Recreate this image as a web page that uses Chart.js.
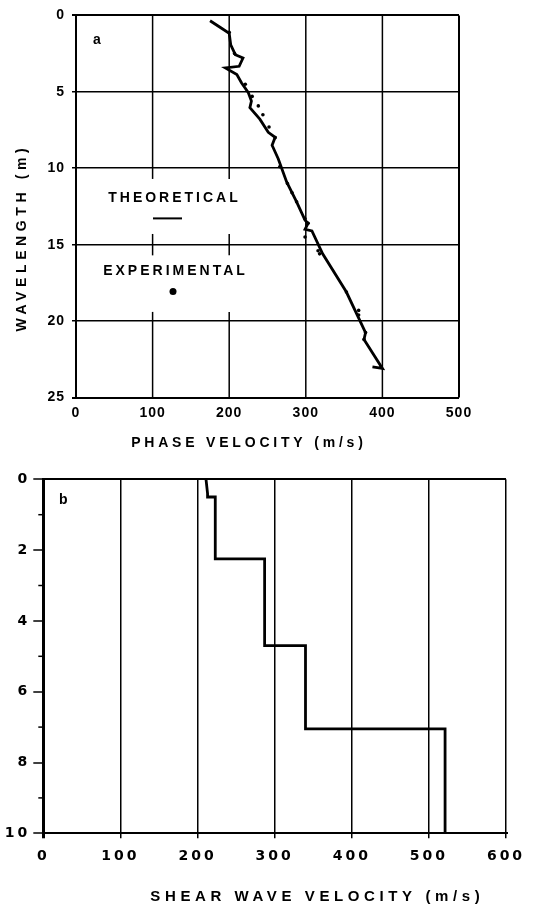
<!DOCTYPE html>
<html><head><meta charset="utf-8">
<script src="https://cdn.jsdelivr.net/npm/chart.js@4/dist/chart.umd.min.js"></script>
<style>
html,body{margin:0;padding:0;background:#fff;width:538px;height:915px;overflow:hidden}
canvas{position:absolute;left:0;display:block}
#ca{top:0}
#cb{top:460px}
</style></head><body>
<canvas id="ca" width="538" height="460"></canvas>
<canvas id="cb" width="538" height="455"></canvas>
<script>
// ---------- Panel a : dispersion curve ----------
const phaseTicks = [0, 100, 200, 300, 400, 500];
const wavelengthTicks = [0, 5, 10, 15, 20, 25];
const theoVelocity = [175, 190, 200, 202, 208, 218, 213, 195, 210, 216, 225, 229, 227, 240, 251, 260, 256, 264, 275, 288, 299, 303, 299, 308, 322, 353, 378, 376, 400, 387];
const theoWavelength = [0.35, 0.84, 1.17, 1.93, 2.57, 2.79, 3.33, 3.44, 3.87, 4.41, 5.06, 5.6, 6.03, 6.79, 7.65, 7.98, 8.5, 9.38, 10.9, 12.2, 13.4, 13.6, 14.0, 14.1, 15.6, 18.1, 20.75, 21.2, 23.1, 23.0];
const expVelocity = [200, 207, 221, 230, 238, 244, 252, 260, 266, 276, 282, 288, 299, 303, 299, 316, 318, 353, 369, 369, 378, 376];
const expWavelength = [1.1, 2.5, 4.5, 5.3, 5.92, 6.5, 7.3, 8.0, 9.9, 11.0, 11.6, 12.2, 13.3, 13.6, 14.5, 15.4, 15.6, 18.1, 19.3, 19.6, 20.75, 21.2];

// ---------- Panel b : shear wave velocity profile ----------
const shearTicks = [0, 100, 200, 300, 400, 500, 600];
const depthTicks = [0, 1, 2, 3, 4, 5, 6, 7, 8, 9, 10];
const depthLabels = ['0', '', '2', '', '4', '', '6', '', '8', '', '10'];
const profileVelocity = [211, 213, 213, 223, 223, 287, 287, 340, 340, 521, 521];
const profileDepth = [0, 0.4, 0.5, 0.5, 2.25, 2.25, 4.7, 4.7, 7.05, 7.05, 10];

const SANS = '"Liberation Sans", Arial, sans-serif';
const WIDE = '"DejaVu Sans", sans-serif';

function pts(xs, ys) { return xs.map((v, i) => ({ x: v, y: ys[i] })); }
function setTicks(arr) { return s => { s.ticks = arr.map(v => ({ value: v })); }; }

function drawText(ctx, txt, x, y, font, spacing, rot) {
  ctx.save();
  ctx.font = font;
  ctx.letterSpacing = spacing + 'px';
  ctx.fillStyle = '#000';
  ctx.textAlign = 'center';
  ctx.textBaseline = 'middle';
  ctx.translate(x, y);
  if (rot) ctx.rotate(rot);
  ctx.fillText(txt, spacing / 2, 0);
  ctx.restore();
}

// vertical grid for panel a (lines at 100 and 200 are interrupted behind the key)
const gridA = {
  id: 'gridA',
  beforeDraw(chart) { chart.ctx.letterSpacing = '1px'; },
  beforeDatasetsDraw(chart) {
    const { ctx, scales: { x, y } } = chart;
    ctx.save();
    ctx.strokeStyle = '#000';
    phaseTicks.forEach((v, i) => {
      const edge = i === 0 || i === phaseTicks.length - 1;
      const px = x.getPixelForValue(v);
      ctx.lineWidth = edge ? 2 : 1.5;
      const segs = (!edge && v <= 250) ? [[0, 10.7], [14.3, 15.7], [19.4, 25]] : [[0, 25]];
      segs.forEach(([a, b]) => {
        ctx.beginPath();
        ctx.moveTo(px, y.getPixelForValue(a));
        ctx.lineTo(px, y.getPixelForValue(b));
        ctx.stroke();
      });
    });
    ctx.restore();
  },
  afterDraw(chart) {
    const { ctx, chartArea: ca } = chart;
    const f14 = 'bold 14px ' + SANS;
    drawText(ctx, 'a', ca.left + 21, ca.top + 25, 'bold 14px ' + SANS, 0);
    drawText(ctx, 'THEORETICAL', ca.left + 97, ca.top + 183, f14, 3);
    ctx.save();
    ctx.strokeStyle = '#000'; ctx.lineWidth = 2;
    ctx.beginPath(); ctx.moveTo(ca.left + 77, ca.top + 203); ctx.lineTo(ca.left + 106, ca.top + 203); ctx.stroke();
    ctx.fillStyle = '#000';
    ctx.beginPath(); ctx.arc(ca.left + 97, ca.top + 276, 3.5, 0, Math.PI * 2); ctx.fill();
    ctx.restore();
    drawText(ctx, 'EXPERIMENTAL', ca.left + 98, ca.top + 256, f14, 3);
    drawText(ctx, 'PHASE VELOCITY (m/s)', 247, 443, f14, 3.8);
    drawText(ctx, 'WAVELENGTH (m)', 22, 240, f14, 4.6, -Math.PI / 2);
  }
};

new Chart(document.getElementById('ca'), {
  type: 'scatter',
  data: {
    datasets: [
      { label: 'THEORETICAL', data: pts(theoVelocity, theoWavelength), showLine: true,
        borderColor: '#000', borderWidth: 2.8, pointRadius: 0, tension: 0 },
      { label: 'EXPERIMENTAL', data: pts(expVelocity, expWavelength),
        backgroundColor: '#000', borderColor: '#000', pointRadius: 1.8, borderWidth: 0 }
    ]
  },
  options: {
    responsive: false, animation: false, devicePixelRatio: 1,
    layout: { padding: { top: 12, right: 79, left: 0, bottom: 0 } },
    plugins: { legend: { display: false }, tooltip: { enabled: false } },
    scales: {
      x: { type: 'linear', min: 0, max: 500, afterBuildTicks: setTicks(phaseTicks),
        afterFit: s => { s.height = 62.5; },
        grid: { display: false, drawTicks: false }, border: { display: false },
        ticks: { color: '#000', padding: 7.2, maxRotation: 0, autoSkip: false,
          font: { family: SANS, size: 14, weight: 'bold' } } },
      y: { type: 'linear', reverse: true, min: 0, max: 25, afterBuildTicks: setTicks(wavelengthTicks),
        afterFit: s => { s.width = 76; },
        grid: { color: '#000', lineWidth: c => (c.tick && (c.tick.value === 0 || c.tick.value === 25)) ? 2 : 1.5,
          drawTicks: true, tickLength: 4 },
        border: { display: false },
        ticks: { color: '#000', padding: 7, autoSkip: false,
          font: { family: SANS, size: 14, weight: 'bold' } } }
    }
  },
  plugins: [gridA]
});

const extraB = {
  id: 'extraB',
  beforeDraw(chart) { chart.ctx.letterSpacing = '3px'; },
  afterDraw(chart) {
    const { ctx, chartArea: ca, scales: { y } } = chart;
    ctx.save();
    ctx.strokeStyle = '#000'; ctx.lineWidth = 1.5;
    depthTicks.forEach((v, i) => {
      if (depthLabels[i] !== '') return;
      const py = y.getPixelForValue(v);
      ctx.beginPath(); ctx.moveTo(ca.left - 5, py); ctx.lineTo(ca.left, py); ctx.stroke();
    });
    ctx.restore();
    drawText(ctx, 'b', ca.left + 20, ca.top + 21, 'bold 14px ' + SANS, 0);
    drawText(ctx, 'SHEAR WAVE VELOCITY (m/s)', 315, 437, 'bold 15px ' + SANS, 4.6);
  }
};

new Chart(document.getElementById('cb'), {
  type: 'scatter',
  data: {
    datasets: [
      { label: 'Vs profile', data: pts(profileVelocity, profileDepth), showLine: true,
        borderColor: '#000', borderWidth: 2.8, pointRadius: 0, tension: 0 }
    ]
  },
  options: {
    responsive: false, animation: false, devicePixelRatio: 1,
    layout: { padding: { top: 19.3, right: 32, left: 0, bottom: 0 } },
    plugins: { legend: { display: false }, tooltip: { enabled: false } },
    scales: {
      x: { type: 'linear', min: 0, max: 600, afterBuildTicks: setTicks(shearTicks),
        afterFit: s => { s.height = 81.7; },
        grid: { color: '#000', lineWidth: c => (c.tick && c.tick.value === 0) ? 3 : 1.5,
          drawTicks: true, tickLength: 5 },
        border: { display: true, color: '#000', width: 2 },
        ticks: { color: '#000', padding: 10, maxRotation: 0, autoSkip: false,
          font: { family: WIDE, size: 14, weight: 'bold' } } },
      y: { type: 'linear', reverse: true, min: 0, max: 10, afterBuildTicks: setTicks(depthTicks),
        afterFit: s => { s.width = 43.3; },
        grid: { color: c => (c.tick && (c.tick.value === 0 || c.tick.value === 10)) ? '#000' : 'rgba(0,0,0,0)',
          lineWidth: 2,
          tickColor: c => (c.index !== undefined && depthLabels[c.index] !== '') ? '#000' : 'rgba(0,0,0,0)',
          tickWidth: 1.5, drawTicks: true, tickLength: 10 },
        border: { display: true, color: '#000', width: 3 },
        ticks: { color: '#000', padding: 3, autoSkip: false,
          callback: (v, i) => depthLabels[i],
          font: { family: WIDE, size: 14, weight: 'bold' } } }
    }
  },
  plugins: [extraB]
});
</script>
</body></html>
